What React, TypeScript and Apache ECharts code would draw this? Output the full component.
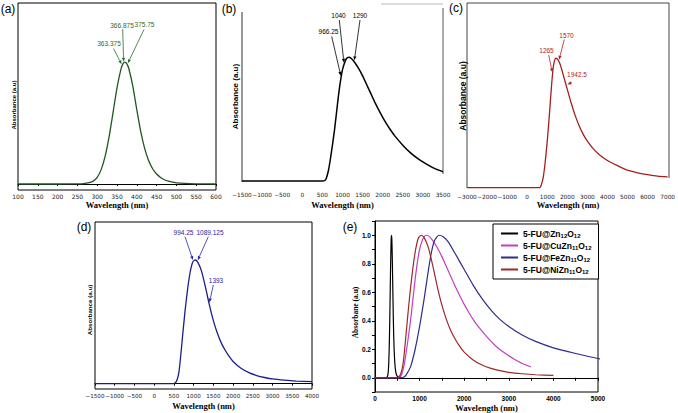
import React, { useEffect, useRef } from "react";
import * as echarts from "echarts";

// ---- Spectra: wavelength (nm) and normalised absorbance ----
const zn12Wl = [100, 200, 260, 270, 280, 290, 300, 310, 320, 330, 340, 350, 360, 365, 370, 375, 380, 390, 400, 410, 420, 430, 440, 450, 460, 470, 480, 490, 500, 520, 550, 600];
const zn12Abs = [0, 0, 0.002, 0.005, 0.011, 0.024, 0.054, 0.118, 0.226, 0.386, 0.586, 0.788, 0.942, 0.985, 1.0, 0.985, 0.945, 0.8, 0.61, 0.43, 0.29, 0.19, 0.125, 0.082, 0.054, 0.035, 0.023, 0.015, 0.01, 0.005, 0.002, 0];

const cuWl = [-1500, 500, 560, 600, 650, 700, 750, 800, 850, 900, 950, 1000, 1050, 1100, 1160, 1220, 1300, 1400, 1500, 1600, 1700, 1800, 1900, 2000, 2100, 2200, 2300, 2500, 2700, 2900, 3100, 3300, 3500];
const cuAbs = [0, 0, 0.004, 0.025, 0.085, 0.18, 0.29, 0.41, 0.55, 0.69, 0.81, 0.9, 0.955, 0.99, 1.0, 0.99, 0.96, 0.91, 0.85, 0.78, 0.71, 0.64, 0.575, 0.515, 0.46, 0.41, 0.365, 0.29, 0.225, 0.175, 0.135, 0.1, 0.075];

const feWl = [-3000, 600, 650, 700, 800, 900, 1000, 1100, 1200, 1265, 1330, 1430, 1530, 1650, 1800, 2000, 2200, 2400, 2600, 2800, 3000, 3300, 3600, 4000, 4500, 5000, 5500, 6000, 6500, 7000];
const feAbs = [0, 0, 0.005, 0.02, 0.08, 0.2, 0.36, 0.55, 0.76, 0.88, 0.96, 1.0, 0.99, 0.95, 0.87, 0.76, 0.65, 0.555, 0.475, 0.41, 0.36, 0.3, 0.255, 0.21, 0.17, 0.135, 0.115, 0.1, 0.09, 0.083];

const niWl = [-1500, 480, 530, 580, 630, 680, 730, 780, 830, 880, 930, 980, 1040, 1100, 1200, 1300, 1400, 1500, 1600, 1700, 1800, 1900, 2000, 2200, 2400, 2600, 2800, 3000, 3300, 3600, 4000];
const niAbs = [0, 0, 0.005, 0.03, 0.1, 0.25, 0.42, 0.58, 0.72, 0.84, 0.93, 0.985, 1.0, 0.985, 0.91, 0.78, 0.635, 0.51, 0.41, 0.33, 0.27, 0.22, 0.18, 0.125, 0.09, 0.066, 0.05, 0.038, 0.028, 0.021, 0.016];

// Annotated band positions (nm)
const zn12Peaks = [363.375, 366.875, 375.75];
const cuPeaks = [966.25, 1040, 1290];
const fePeaks = [1265, 1570, 1942.5];
const niPeaks = [994.25, 1089.125, 1393];

// Axis ranges: [min, max, step]
const axisA = [100, 600, 50];
const axisB = [-1500, 3500, 500];
const axisC = [-3000, 7000, 1000];
const axisD = [-1500, 4000, 500];
const axisE = [0, 5000, 500];
const absTicksE = [-0.1, 1.1, 0.1];

const legendNames = ["5-FU@Zn12O12", "5-FU@CuZn11O12", "5-FU@FeZn11O12", "5-FU@NiZn11O12"];

// ---- Layout ----
const G = {
  a: { left: 18, top: 3, width: 198, height: 187 },
  b: { left: 242, top: 4, width: 201, height: 178 },
  c: { left: 467, top: 3, width: 202, height: 187 },
  d: { left: 95, top: 222, width: 217, height: 167 },
  e: { left: 375, top: 221, width: 223, height: 171 },
};
const yRange = {
  a: [-0.049, 1.484],
  b: [-0.008, 1.431],
  c: [-0.018, 1.427],
  d: [-0.043, 1.307],
};

// annotation label centres and arrow tails (px)
const labelPos = {
  a: [[109, 43], [122, 25], [144.5, 24]],
  b: [[328.5, 31.5], [338.5, 15.5], [360, 15.5]],
  c: [[546.5, 50], [566.5, 35], [577, 74]],
  d: [[183.5, 232.5], [210, 232.5], [216, 280]],
};
const tailPos = {
  a: [[113.5, 48.5], [122.7, 29], [144, 29.5]],
  b: [[331.7, 36.5], [339.3, 20], [360, 20]],
  c: [[548.7, 55], [564.3, 39.5], [571.7, 82.5]],
  d: [[185, 236.7], [208.3, 236.7], [213.3, 285]],
};

const COL = {
  green: "#1f561f",
  greenText: "#2c6c2c",
  black: "#000000",
  red: "#a3201f",
  redText: "#b01e1e",
  navy: "#1d1d8a",
  navyText: "#2525a8",
  magenta: "#c040c0",
  navyE: "#2c2c8e",
  redE: "#a02828",
};

const pairs = (xs: number[], ys: number[]) => xs.map((x, i) => [x, ys[i]]);
const interp = (xs: number[], ys: number[], x: number) => {
  for (let i = 0; i < xs.length - 1; i++) {
    if (x >= xs[i] && x <= xs[i + 1]) {
      const t = (x - xs[i]) / (xs[i + 1] - xs[i]);
      return ys[i] + t * (ys[i + 1] - ys[i]);
    }
  }
  return 0;
};
const minus = (v: number) => String(v).replace("-", "\u2212");

const smallX = (gridIndex: number, r: number[], fontSize: number, margin: number, ticks: boolean) => ({
  type: "value",
  gridIndex,
  min: r[0],
  max: r[1],
  interval: r[2],
  axisLine: { show: ticks, lineStyle: { color: "#000", width: 1 } },
  axisTick: { show: ticks, length: 2, lineStyle: { color: "#000" } },
  axisLabel: {
    fontSize,
    margin,
    color: "#1a1a1a",
    fontFamily: "DejaVu Sans",
    showMinLabel: true,
    showMaxLabel: true,
    hideOverlap: false,
    formatter: (v: number) => minus(v),
  },
  splitLine: { show: false },
});

const hiddenY = (gridIndex: number, r: number[]) => ({
  type: "value",
  gridIndex,
  min: r[0],
  max: r[1],
  axisLine: { show: false },
  axisTick: { show: false },
  axisLabel: { show: false },
  splitLine: { show: false },
});

const line = (name: string, xi: number, xs: number[], ys: number[], color: string, width: number) => ({
  type: "line",
  name,
  xAxisIndex: xi,
  yAxisIndex: xi,
  data: pairs(xs, ys),
  showSymbol: false,
  symbol: "none",
  smooth: 0.2,
  lineStyle: { color, width },
  itemStyle: { color },
  z: 3,
});

const txt = (text: string, x: number, y: number, font: string, fill = "#000", rotation = 0) => ({
  type: "text",
  x,
  y,
  rotation,
  silent: true,
  z: 20,
  style: {
    text,
    font,
    fill,
    align: "center",
    verticalAlign: "middle",
    textAlign: "center",
    textVerticalAlign: "middle",
  },
});

const seg = (pts: number[][], stroke: string, lineWidth = 1) => ({
  type: "polyline",
  silent: true,
  shape: { points: pts },
  style: { stroke, lineWidth, fill: null },
});

const serifTitle = 'bold 8.5px "Liberation Serif"';
const annoFont = '6.5px "Liberation Sans Narrow", "Liberation Sans", sans-serif';
const R = Math.PI / 2;

const staticGraphics = [
  // frame pieces for panels (b) and (c)
  seg([[242, 12], [242, 182]], "#333"),
  seg([[443, 8], [443, 174]], "#555"),
  seg([[381, 4], [443, 4]], "#bbbbbb"),
  seg([[467, 188], [467, 3], [669, 3], [669, 178]], "#444"),
  // panel letters
  txt("(a)", 8, 9, '12px "Liberation Sans"'),
  txt("(b)", 229, 8.5, '12px "Liberation Sans"'),
  txt("(c)", 456, 7.5, '12px "Liberation Sans"'),
  txt("(d)", 84, 227, '12px "Liberation Sans"'),
  txt("(e)", 350, 227, '12px "Liberation Sans"'),
  // y titles
  txt("Absorbance (a.u)", 14, 105, 'bold 6px "Liberation Sans"', "#000", R),
  txt("Absorbance (a.u)", 235.5, 96.5, 'bold 8px "Liberation Sans"', "#000", R),
  txt("Absorbance (a.u)", 463, 96, 'bold 8.5px "Liberation Sans"', "#000", R),
  txt("Absorbance (a.u)", 89, 310, 'bold 6.2px "Liberation Sans"', "#000", R),
  txt("Absorbane (a.u)", 355, 312.5, 'bold 7.5px "Liberation Serif"', "#000", R),
  // x titles
  txt("Wavelength (nm)", 117, 205, serifTitle),
  txt("Wavelength (nm)", 342.5, 205, serifTitle),
  txt("Wavelength (nm)", 568, 205, serifTitle),
  txt("Wavelength (nm)", 203.5, 405.5, serifTitle),
  txt("Wavelength (nm)", 486.5, 408, serifTitle),
];

export default function App() {
  const ref = useRef<HTMLDivElement>(null);

  useEffect(() => {
    if (!ref.current) return;
    const chart = echarts.init(ref.current, undefined, { renderer: "svg" });

    const option: any = {
      animation: false,
      backgroundColor: "#ffffff",
      grid: [
        { ...G.a, show: true, borderColor: "#000", borderWidth: 1, containLabel: false },
        { ...G.b, show: false, containLabel: false },
        { ...G.c, show: false, containLabel: false },
        { ...G.d, show: true, borderColor: "#000", borderWidth: 1, containLabel: false },
        { ...G.e, show: true, borderColor: "#000", borderWidth: 1, containLabel: false },
      ],
      xAxis: [
        smallX(0, axisA, 6, 3, true),
        smallX(1, axisB, 5.8, 10, false),
        smallX(2, axisC, 5.8, 4, false),
        smallX(3, axisD, 5.6, 4, true),
        {
          type: "value",
          gridIndex: 4,
          min: axisE[0],
          max: axisE[1],
          interval: axisE[2],
          axisLine: { show: true, lineStyle: { color: "#000" } },
          axisTick: { show: true, length: 3, lineStyle: { color: "#000" } },
          axisLabel: {
            fontSize: 6.5,
            fontWeight: "bold",
            color: "#000",
            margin: 3,
            fontFamily: "Liberation Sans",
            showMinLabel: true,
            showMaxLabel: true,
            formatter: (v: number) => (v % 1000 === 0 ? String(v) : ""),
          },
          splitLine: { show: false },
        },
      ],
      yAxis: [
        hiddenY(0, yRange.a),
        hiddenY(1, yRange.b),
        hiddenY(2, yRange.c),
        hiddenY(3, yRange.d),
        {
          type: "value",
          gridIndex: 4,
          min: absTicksE[0],
          max: absTicksE[1],
          interval: absTicksE[2],
          axisLine: { show: true, lineStyle: { color: "#000" } },
          axisTick: { show: true, length: 3, lineStyle: { color: "#000" } },
          axisLabel: {
            fontSize: 6.5,
            fontWeight: "bold",
            color: "#000",
            margin: 4,
            fontFamily: "Liberation Sans",
            formatter: (v: number) => {
              const k = Math.round(v * 10);
              return k >= 0 && k <= 10 && k % 2 === 0 ? (k / 10).toFixed(1) : "";
            },
          },
          splitLine: { show: false },
        },
      ],
      legend: {
        data: legendNames,
        orient: "vertical",
        left: 493,
        top: 224,
        padding: [4, 7, 4, 8],
        itemGap: 1,
        itemWidth: 17,
        itemHeight: 2,
        icon: "rect",
        backgroundColor: "#ffffff",
        borderColor: "#000",
        borderWidth: 1,
        borderRadius: 0,
        selectedMode: false,
        textStyle: {
          fontSize: 8.5,
          fontWeight: "bold",
          fontFamily: "Liberation Sans",
          color: "#000",
          lineHeight: 11,
          rich: {
            s: { fontSize: 6, fontWeight: "bold", fontFamily: "Liberation Sans", lineHeight: 6, verticalAlign: "bottom" },
          },
        },
        formatter: (name: string) => name.replace(/([A-Za-z])(\d+)/g, (_m: string, a: string, d: string) => `${a}{s|${d}}`),
        z: 10,
      },
      series: [
        line("Zn12O12 UV", 0, zn12Wl, zn12Abs, COL.green, 1.3),
        line("CuZn11O12 UV", 1, cuWl, cuAbs, COL.black, 1.5),
        line("FeZn11O12 UV", 2, feWl, feAbs, COL.red, 1.3),
        line("NiZn11O12 UV", 3, niWl, niAbs, COL.navy, 1.3),
        line(legendNames[0], 4, zn12Wl, zn12Abs, COL.black, 1.2),
        line(legendNames[1], 4, cuWl, cuAbs, COL.magenta, 1.2),
        line(legendNames[2], 4, feWl, feAbs, COL.navyE, 1.2),
        line(legendNames[3], 4, niWl, niAbs, COL.redE, 1.2),
      ],
      graphic: staticGraphics,
    };

    chart.setOption(option);

    // band arrows: tips sit on the curves, placed through each panel's axes
    const panels = [
      { idx: 0, peaks: zn12Peaks, xs: zn12Wl, ys: zn12Abs, color: COL.greenText, labels: labelPos.a, tails: tailPos.a },
      { idx: 1, peaks: cuPeaks, xs: cuWl, ys: cuAbs, color: COL.black, labels: labelPos.b, tails: tailPos.b },
      { idx: 2, peaks: fePeaks, xs: feWl, ys: feAbs, color: COL.redText, labels: labelPos.c, tails: tailPos.c },
      { idx: 3, peaks: niPeaks, xs: niWl, ys: niAbs, color: COL.navyText, labels: labelPos.d, tails: tailPos.d },
    ];
    const arrowEls: any[] = [];
    panels.forEach((p) => {
      p.peaks.forEach((w, i) => {
        const tip = chart.convertToPixel({ xAxisIndex: p.idx, yAxisIndex: p.idx }, [w, interp(p.xs, p.ys, w)]) as number[];
        const [tx, ty] = p.tails[i];
        const dx = tip[0] - tx;
        const dy = tip[1] - ty;
        const len = Math.sqrt(dx * dx + dy * dy) || 1;
        const ux = dx / len;
        const uy = dy / len;
        const hx = tip[0] - ux * 1.5;
        const hy = tip[1] - uy * 1.5;
        const bx = hx - ux * 4;
        const by = hy - uy * 4;
        const nx = -uy * 1.6;
        const ny = ux * 1.6;
        arrowEls.push({
          type: "line",
          silent: true,
          z: 15,
          shape: { x1: tx, y1: ty, x2: bx, y2: by },
          style: { stroke: p.color, lineWidth: 0.8 },
        });
        arrowEls.push({
          type: "polygon",
          silent: true,
          z: 15,
          shape: { points: [[hx, hy], [bx + nx, by + ny], [bx - nx, by - ny]] },
          style: { fill: p.color, stroke: null },
        });
        arrowEls.push(txt(String(w), p.labels[i][0], p.labels[i][1], annoFont, p.color));
      });
    });
    chart.setOption({ graphic: [...staticGraphics, ...arrowEls] });

    return () => chart.dispose();
  }, []);

  return (
    <div
      ref={ref}
      style={{ position: "absolute", left: 0, top: 0, width: 678, height: 413, background: "#fff" }}
    />
  );
}
